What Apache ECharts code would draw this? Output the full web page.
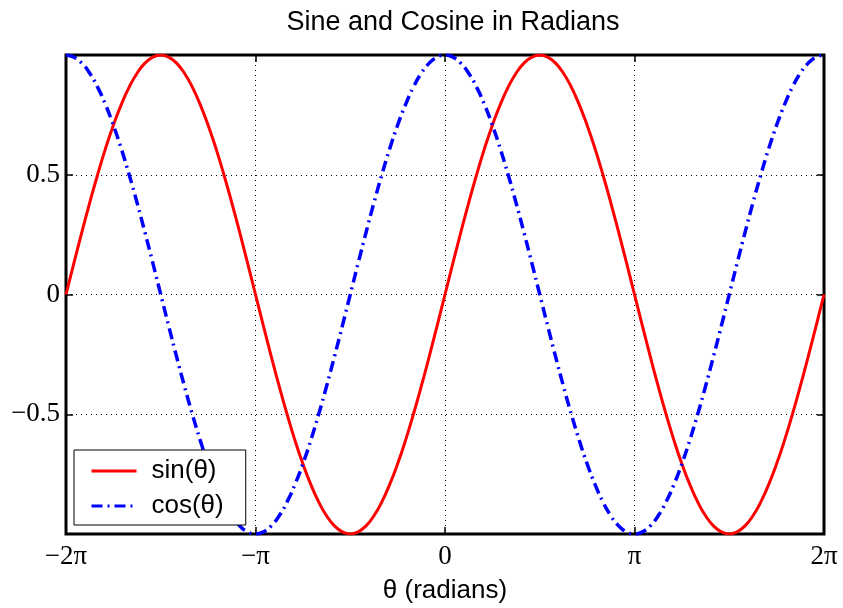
<!DOCTYPE html>
<html>
<head>
<meta charset="utf-8">
<script src="https://cdn.jsdelivr.net/npm/echarts@6/dist/echarts.min.js"></script>
<style>
html, body { margin: 0; padding: 0; background: #fff; }
#chart { width: 843px; height: 608px; }
</style>
</head>
<body>
<div id="chart"></div>
<script>
// samples every pi/24 from -2pi to 2pi
const sinValues = [0, 0.131, 0.259, 0.383, 0.5, 0.609, 0.707, 0.793, 0.866, 0.924, 0.966, 0.991, 1,
	0.991, 0.966, 0.924, 0.866, 0.793, 0.707, 0.609, 0.5, 0.383, 0.259, 0.131, 0,
	-0.131, -0.259, -0.383, -0.5, -0.609, -0.707, -0.793, -0.866, -0.924, -0.966, -0.991, -1,
	-0.991, -0.966, -0.924, -0.866, -0.793, -0.707, -0.609, -0.5, -0.383, -0.259, -0.131, 0,
	0.131, 0.259, 0.383, 0.5, 0.609, 0.707, 0.793, 0.866, 0.924, 0.966, 0.991, 1,
	0.991, 0.966, 0.924, 0.866, 0.793, 0.707, 0.609, 0.5, 0.383, 0.259, 0.131, 0,
	-0.131, -0.259, -0.383, -0.5, -0.609, -0.707, -0.793, -0.866, -0.924, -0.966, -0.991, -1,
	-0.991, -0.966, -0.924, -0.866, -0.793, -0.707, -0.609, -0.5, -0.383, -0.259, -0.131, 0];
const cosValues = [1, 0.991, 0.966, 0.924, 0.866, 0.793, 0.707, 0.609, 0.5, 0.383, 0.259, 0.131, 0,
	-0.131, -0.259, -0.383, -0.5, -0.609, -0.707, -0.793, -0.866, -0.924, -0.966, -0.991, -1,
	-0.991, -0.966, -0.924, -0.866, -0.793, -0.707, -0.609, -0.5, -0.383, -0.259, -0.131, 0,
	0.131, 0.259, 0.383, 0.5, 0.609, 0.707, 0.793, 0.866, 0.924, 0.966, 0.991, 1,
	0.991, 0.966, 0.924, 0.866, 0.793, 0.707, 0.609, 0.5, 0.383, 0.259, 0.131, 0,
	-0.131, -0.259, -0.383, -0.5, -0.609, -0.707, -0.793, -0.866, -0.924, -0.966, -0.991, -1,
	-0.991, -0.966, -0.924, -0.866, -0.793, -0.707, -0.609, -0.5, -0.383, -0.259, -0.131, 0,
	0.131, 0.259, 0.383, 0.5, 0.609, 0.707, 0.793, 0.866, 0.924, 0.966, 0.991, 1];
const xTickLabels = {"-2": "−2π", "-1": "−π", "0": "0", "1": "π", "2": "2π"};
const yTickLabels = {"-0.5": "−0.5", "0": "0", "0.5": "0.5"};

const step = Math.PI / 24;
const sinData = sinValues.map((v, i) => [-2 * Math.PI + i * step, v]);
const cosData = cosValues.map((v, i) => [-2 * Math.PI + i * step, v]);

const chart = echarts.init(document.getElementById("chart"));
const serif = "'Liberation Serif', 'Times New Roman', serif";
const sans = "'Liberation Sans', Arial, sans-serif";

const tickStyle = {show: true, inside: true, length: 7, lineStyle: {color: "#000", width: 1.5}};
const dotted = {show: true, lineStyle: {color: "#000", width: 1, type: [1, 4]}};
const noLine = {show: false, onZero: false};

chart.setOption({
	animation: false,
	title: {
		text: "Sine and Cosine in Radians",
		left: 448,
		top: 4,
		textAlign: "center",
		textStyle: {fontFamily: sans, fontSize: 27, fontWeight: "normal", color: "#000"}
	},
	legend: {
		orient: "vertical",
		left: 74,
		top: 450,
		padding: [8, 22, 6, 16],
		itemGap: 9,
		itemWidth: 45,
		itemHeight: 14,
		backgroundColor: "#fff",
		borderColor: "#000",
		borderWidth: 1,
		borderRadius: 0,
		itemStyle: {opacity: 0},
		lineStyle: {width: 3},
		textStyle: {fontFamily: sans, fontSize: 26, color: "#000", padding: [0, 0, 0, 10]},
		data: ["sin(θ)", "cos(θ)"]
	},
	grid: {
		left: 66, top: 55, width: 758, height: 479,
		outerBoundsMode: "none",
		containLabel: false,
		show: true, borderColor: "#000", borderWidth: 3, backgroundColor: "#fff"
	},
	xAxis: [
		{
			type: "value",
			min: -2 * Math.PI,
			max: 2 * Math.PI,
			interval: Math.PI,
			name: "θ (radians)",
			nameLocation: "middle",
			nameGap: 44,
			nameTextStyle: {fontFamily: sans, fontSize: 26, color: "#000"},
			axisLine: noLine,
			axisTick: tickStyle,
			splitLine: dotted,
			axisLabel: {
				fontFamily: serif, fontSize: 27, color: "#000", margin: 9,
				formatter: v => xTickLabels[String(Math.round(v / Math.PI))]
			}
		},
		{
			type: "value", position: "top",
			min: -2 * Math.PI, max: 2 * Math.PI, interval: Math.PI,
			axisLine: noLine, axisTick: tickStyle,
			splitLine: {show: false}, axisLabel: {show: false}
		}
	],
	yAxis: [
		{
			type: "value",
			min: -1, max: 1, interval: 0.5,
			axisLine: noLine,
			axisTick: tickStyle,
			splitLine: dotted,
			axisLabel: {
				fontFamily: serif, fontSize: 27, color: "#000", margin: 6,
				formatter: v => yTickLabels[String(v)] || ""
			}
		},
		{
			type: "value", position: "right",
			min: -1, max: 1, interval: 0.5,
			axisLine: noLine, axisTick: tickStyle,
			splitLine: {show: false}, axisLabel: {show: false}
		}
	],
	series: [
		{
			name: "sin(θ)",
			type: "line",
			data: sinData,
			smooth: true,
			symbol: "none",
			color: "#ff0000",
			lineStyle: {color: "#ff0000", width: 3}
		},
		{
			name: "cos(θ)",
			type: "line",
			data: cosData,
			smooth: true,
			symbol: "none",
			color: "#0000ff",
			lineStyle: {color: "#0000ff", width: 3.5, type: [11, 5, 2, 5]}
		}
	]
});
</script>
</body>
</html>
